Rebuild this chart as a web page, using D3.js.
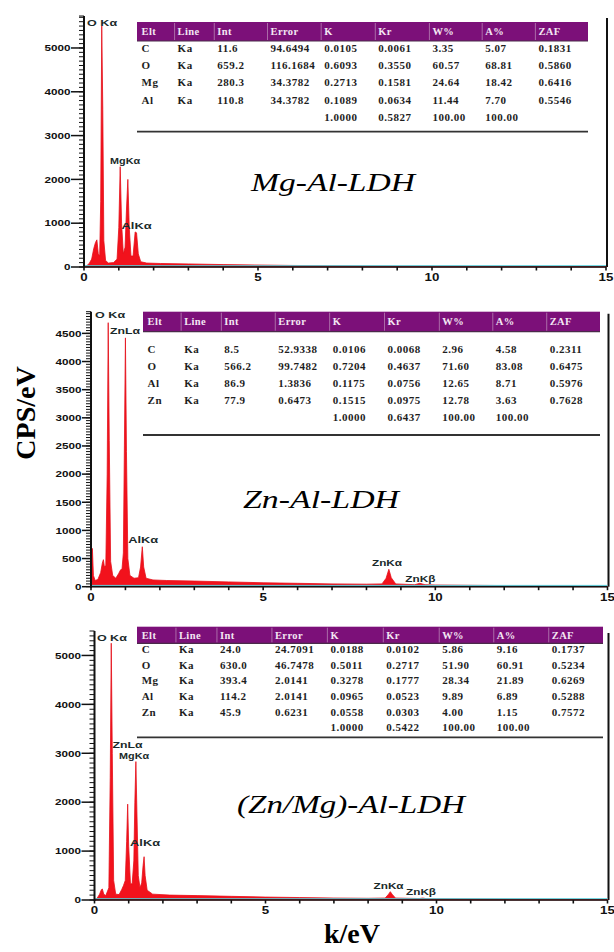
<!DOCTYPE html>
<html><head><meta charset="utf-8">
<script src="https://cdn.jsdelivr.net/npm/d3@7"></script>
<style>body{margin:0;background:#fff}</style>
</head><body><svg id="c" width="614" height="952"></svg>
<script>
// EDS spectra: [energy keV, counts per eV]
const specMgAl = [[0,0],[0.08,30],[0.15,80],[0.22,180],[0.28,420],[0.33,560],[0.37,620],[0.41,300],[0.45,250],[0.48,1500],[0.51,5500],[0.54,3600],[0.57,600],[0.62,150],[0.7,90],[0.85,100],[0.95,180],[1.0,900],[1.04,2290],[1.08,1000],[1.13,300],[1.18,450],[1.22,1300],[1.26,2000],[1.3,900],[1.35,250],[1.41,250],[1.47,800],[1.51,780],[1.56,300],[1.63,120],[1.8,90],[2.2,80],[3,70],[4,55],[5,45],[6,35],[7,30],[8,25],[9,20],[10,18],[12,14],[15,10]];
const specZnAl = [[0,0],[0.02,300],[0.04,680],[0.07,200],[0.12,110],[0.2,130],[0.28,250],[0.33,420],[0.36,480],[0.39,350],[0.43,380],[0.47,2000],[0.5,4690],[0.53,2600],[0.57,450],[0.63,200],[0.72,150],[0.8,230],[0.86,300],[0.9,310],[0.94,600],[0.97,2500],[1.0,4420],[1.03,2400],[1.07,500],[1.13,200],[1.25,150],[1.38,160],[1.44,350],[1.49,710],[1.53,350],[1.6,150],[1.8,120],[2.2,110],[3,100],[4,85],[5,70],[6,60],[7,50],[8,45],[8.45,50],[8.57,150],[8.65,310],[8.72,160],[8.85,50],[9.4,35],[9.55,60],[9.7,35],[10,30],[12,20],[15,12]];
const specZnMgAl = [[0,0],[0.08,40],[0.15,120],[0.2,210],[0.23,225],[0.27,120],[0.33,90],[0.42,250],[0.46,2500],[0.49,5250],[0.52,3000],[0.56,400],[0.62,120],[0.72,110],[0.8,220],[0.85,300],[0.9,400],[0.94,1200],[0.97,1960],[1.0,1100],[1.05,350],[1.1,320],[1.15,800],[1.18,2000],[1.21,2830],[1.24,1800],[1.28,500],[1.33,250],[1.38,350],[1.42,700],[1.45,885],[1.48,500],[1.54,200],[1.7,120],[2.2,100],[3,90],[4,75],[5,60],[6,50],[7,40],[8,35],[8.5,40],[8.6,120],[8.65,170],[8.7,120],[8.8,40],[9.5,30],[9.6,40],[9.7,28],[10,25],[12,18],[15,10]];

// peak annotations: [text, keV, cps] (left end of text baseline)
const peaksMgAl = [["O Kα",0.09,5500],["MgKα",0.75,2350],["AlKα",1.08,870]];
const peaksZnAl = [["O Kα",0.12,4767],["ZnLα",0.55,4490],["AlKα",1.08,780],["ZnKα",8.16,367],["ZnKβ",9.13,90]];
const peaksZnMgAl = [["O Kα",0.07,5300],["ZnLα",0.53,3100],["MgKα",0.72,2880],["AlKα",1.04,1100],["ZnKα",8.16,217],["ZnKβ",9.11,100]];

// quantification tables
const tableCols = ["Elt","Line","Int","Error","K","Kr","W%","A%","ZAF"];
const rowsMgAl = [
  ["C","Ka","11.6","94.6494","0.0105","0.0061","3.35","5.07","0.1831"],
  ["O","Ka","659.2","116.1684","0.6093","0.3550","60.57","68.81","0.5860"],
  ["Mg","Ka","280.3","34.3782","0.2713","0.1581","24.64","18.42","0.6416"],
  ["Al","Ka","110.8","34.3782","0.1089","0.0634","11.44","7.70","0.5546"],
  ["","","","","1.0000","0.5827","100.00","100.00",""]
];
const rowsZnAl = [
  ["C","Ka","8.5","52.9338","0.0106","0.0068","2.96","4.58","0.2311"],
  ["O","Ka","566.2","99.7482","0.7204","0.4637","71.60","83.08","0.6475"],
  ["Al","Ka","86.9","1.3836","0.1175","0.0756","12.65","8.71","0.5976"],
  ["Zn","Ka","77.9","0.6473","0.1515","0.0975","12.78","3.63","0.7628"],
  ["","","","","1.0000","0.6437","100.00","100.00",""]
];
const rowsZnMgAl = [
  ["C","Ka","24.0","24.7091","0.0188","0.0102","5.86","9.16","0.1737"],
  ["O","Ka","630.0","46.7478","0.5011","0.2717","51.90","60.91","0.5234"],
  ["Mg","Ka","393.4","2.0141","0.3278","0.1777","28.34","21.89","0.6269"],
  ["Al","Ka","114.2","2.0141","0.0965","0.0523","9.89","6.89","0.5288"],
  ["Zn","Ka","45.9","0.6231","0.0558","0.0303","4.00","1.15","0.7572"],
  ["","","","","1.0000","0.5422","100.00","100.00",""]
];

const xTicks = [0,5,10,15];
const titles = ["Mg-Al-LDH","Zn-Al-LDH","(Zn/Mg)-Al-LDH"];

const panels = [
  {spec: specMgAl, peaks: peaksMgAl, rows: rowsMgAl, title: titles[0], yMax: 5730, major: 1000, minor: 100,
   x0: 84, x1: 606, yTop: 16, yBase: 267, majorLen: 13,
   tb: {l: 137, r: 588, hTop: 22, hBot: 41, row0: 47.7, step: 17.4, line: 131.7},
   tt: {x: 251, y: 191, w: 164}},
  {spec: specZnAl, peaks: peaksZnAl, rows: rowsZnAl, title: titles[1], yMax: 4885, major: 500, minor: 50,
   x0: 91, x1: 607.5, yTop: 311.7, yBase: 586.7, majorLen: 9,
   tb: {l: 143, r: 600, hTop: 311.7, hBot: 331.7, row0: 349.3, step: 17.0, line: 435},
   tt: {x: 243, y: 508, w: 156}},
  {spec: specZnMgAl, peaks: peaksZnMgAl, rows: rowsZnMgAl, title: titles[2], yMax: 5500, major: 1000, minor: 100,
   x0: 94.5, x1: 607.5, yTop: 631, yBase: 900, majorLen: 13,
   tb: {l: 137, r: 603, hTop: 626.7, hBot: 643.3, row0: 649.3, step: 15.6, line: 737.3},
   tt: {x: 237, y: 813, w: 228}}
];

const colFrac = [0.01, 0.09, 0.178, 0.296, 0.415, 0.535, 0.655, 0.772, 0.89];

const svg = d3.select("#c");

panels.forEach(p => {
  const g = svg.append("g");
  const x = d3.scaleLinear().domain([0, 15]).range([p.x0, p.x1]);
  const y = d3.scaleLinear().domain([0, p.yMax]).range([p.yBase, p.yTop]);

  // table
  const tw = p.tb.r - p.tb.l;
  g.append("rect").attr("x", p.tb.l).attr("y", p.tb.hTop).attr("width", tw).attr("height", p.tb.hBot - p.tb.hTop)
    .attr("fill", "#7c1079");
  g.append("line").attr("x1", p.tb.l).attr("x2", p.tb.r).attr("y1", p.tb.hBot).attr("y2", p.tb.hBot)
    .attr("stroke", "#4a2a4a").attr("stroke-width", 1.2);
  colFrac.slice(1).forEach(f => {
    g.append("line").attr("x1", p.tb.l + f * tw - 3).attr("x2", p.tb.l + f * tw - 3)
      .attr("y1", p.tb.hTop + 1).attr("y2", p.tb.hBot - 1).attr("stroke", "#b783b5").attr("stroke-width", 0.8);
  });
  g.selectAll(".hd").data(tableCols).join("text")
    .attr("x", (d, i) => p.tb.l + colFrac[i] * tw)
    .attr("y", (p.tb.hTop + p.tb.hBot) / 2 + 3.5)
    .attr("fill", "#f3e6f3").attr("font-family", "Liberation Serif").attr("font-weight", "bold")
    .attr("font-size", 10.5).attr("letter-spacing", 0.4).text(d => d);
  p.rows.forEach((r, ri) => {
    g.selectAll(null).data(r).join("text")
      .attr("x", (d, i) => p.tb.l + colFrac[i] * tw)
      .attr("y", p.tb.row0 + ri * p.tb.step + 3.8)
      .attr("fill", "#1e1e1e").attr("font-family", "Liberation Serif").attr("font-weight", "bold")
      .attr("font-size", 11).attr("letter-spacing", 0.5).text(d => d);
  });
  g.append("line").attr("x1", p.tb.l).attr("x2", p.tb.r).attr("y1", p.tb.line).attr("y2", p.tb.line)
    .attr("stroke", "#333").attr("stroke-width", 1.8);

  // right frame
  g.append("line").attr("x1", p.x1 + 1).attr("x2", p.x1 + 1).attr("y1", p.yTop + 2).attr("y2", p.yBase)
    .attr("stroke", "#111").attr("stroke-width", 2);

  // spectrum
  const area = d3.area().x(d => x(d[0])).y0(y(0)).y1(d => y(d[1]));
  g.append("path").datum(p.spec).attr("d", area)
    .attr("fill", "#f2121c").attr("stroke", "#e4101a").attr("stroke-width", 0.8).attr("stroke-linejoin", "round");

  // baseline
  g.append("line").attr("x1", x(0)).attr("x2", x(15)).attr("y1", y(0) - 1.3).attr("y2", y(0) - 1.3)
    .attr("stroke", "#56cfdc").attr("stroke-width", 1);

  // x axis
  g.append("line").attr("x1", x(0)).attr("x2", x(15)).attr("y1", y(0)).attr("y2", y(0))
    .attr("stroke", "#111").attr("stroke-width", 1.6);
  g.selectAll(null).data(d3.range(0, 16)).join("line")
    .attr("x1", d => x(d)).attr("x2", d => x(d)).attr("y1", y(0)).attr("y2", y(0) + 3.5)
    .attr("stroke", "#111").attr("stroke-width", 1.6);
  g.selectAll(null).data(xTicks).join("text")
    .attr("x", d => x(d)).attr("y", y(0) + 14).attr("text-anchor", "middle")
    .attr("font-family", "Liberation Sans").attr("font-weight", "bold").attr("font-size", 10.5)
    .attr("textLength", d => String(d).length * 7.4).attr("lengthAdjust", "spacingAndGlyphs")
    .attr("fill", "#111").text(d => d);

  // y axis
  g.append("line").attr("x1", x(0)).attr("x2", x(0)).attr("y1", p.yTop).attr("y2", y(0) + 1)
    .attr("stroke", "#111").attr("stroke-width", 2);
  g.selectAll(null).data(d3.range(0, p.yMax, p.minor).concat([p.yMax])).join("line")
    .attr("x1", x(0) - 5).attr("x2", x(0)).attr("y1", d => y(d)).attr("y2", d => y(d))
    .attr("stroke", "#111").attr("stroke-width", 1);
  const majors = d3.range(0, p.yMax, p.major);
  g.selectAll(null).data(majors).join("line")
    .attr("x1", x(0) - p.majorLen).attr("x2", x(0)).attr("y1", d => y(d)).attr("y2", d => y(d))
    .attr("stroke", "#111").attr("stroke-width", 1.5);
  g.selectAll(null).data(majors).join("text")
    .attr("x", x(0) - p.majorLen - 0.5).attr("y", d => y(d) + 3.3).attr("text-anchor", "end")
    .attr("font-family", "Liberation Sans").attr("font-weight", "bold").attr("font-size", 9)
    .attr("textLength", d => String(d).length * 6.5).attr("lengthAdjust", "spacingAndGlyphs")
    .attr("fill", "#111").text(d => d);

  // peak labels
  g.selectAll(null).data(p.peaks).join("text")
    .attr("x", d => x(d[1])).attr("y", d => y(d[2]))
    .attr("font-family", "Liberation Sans").attr("font-weight", "bold").attr("font-size", 9)
    .attr("textLength", 30).attr("lengthAdjust", "spacingAndGlyphs")
    .attr("fill", "#1a2a2a").text(d => d[0]);

  // sample title
  g.append("text").attr("x", p.tt.x).attr("y", p.tt.y)
    .attr("font-family", "Liberation Serif").attr("font-style", "italic").attr("font-size", 25)
    .attr("textLength", p.tt.w).attr("lengthAdjust", "spacingAndGlyphs")
    .attr("fill", "#000").text(p.title);
});

// axis titles
svg.append("text").attr("transform", "translate(35,413) rotate(-90)").attr("text-anchor", "middle")
  .attr("font-family", "Liberation Serif").attr("font-weight", "bold").attr("font-size", 28)
  .attr("fill", "#000").text("CPS/eV");
svg.append("text").attr("x", 352).attr("y", 943).attr("text-anchor", "middle")
  .attr("font-family", "Liberation Serif").attr("font-weight", "bold").attr("font-size", 28)
  .attr("fill", "#000").text("k/eV");
</script></body></html>
